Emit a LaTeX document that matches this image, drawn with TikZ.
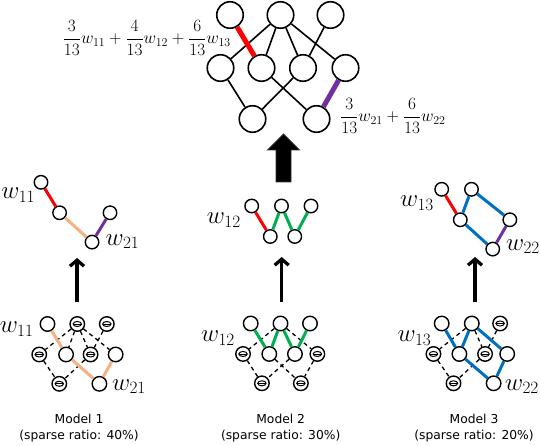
\documentclass[tikz,border=0pt]{standalone}
\usepackage{fontspec}
\setsansfont{DejaVu Sans}
\usetikzlibrary{arrows.meta}
\definecolor{cred}{RGB}{255,0,0}
\definecolor{cpurple}{RGB}{112,48,160}
\definecolor{ctan}{RGB}{244,177,131}
\definecolor{cgreen}{RGB}{0,176,80}
\definecolor{cblue}{RGB}{0,112,192}
\begin{document}
\begin{tikzpicture}[x=1pt,y=-1pt,
  bignode/.style={circle,draw,line width=1.6pt,minimum size=26.5pt,inner sep=0pt},
  midnode/.style={circle,draw,line width=1.4pt,minimum size=13.5pt,inner sep=0pt},
  lownode/.style={circle,draw,line width=1.4pt,minimum size=14.5pt,inner sep=0pt},
  pruned/.style={lownode,path picture={
      \draw[line width=1pt] (path picture bounding box.center) ellipse (4.2pt and 2.5pt);
      \draw[line width=0.9pt] ([xshift=-4.2pt]path picture bounding box.center) -- ([xshift=4.2pt]path picture bounding box.center);}},
  bigedge/.style={line width=1.6pt},
  heavyedge/.style={line width=5pt},
  coledge/.style={line width=3pt},
  dashedge/.style={line width=1.3pt,dash pattern=on 4pt off 3.5pt},
  wlabel/.style={font=\fontsize{24}{26}\selectfont,inner sep=0pt,anchor=base},
  formula/.style={font=\fontsize{18.8}{22}\selectfont,inner sep=0pt},
  modeltext/.style={font=\sffamily\fontsize{12.3}{15.7}\selectfont,align=center,inner sep=0pt},
  thinarrow/.style={line width=3.3pt,-{Straight Barb[length=6pt,width=14pt]}},
  mscale/.style={xscale=0.59,yscale=0.575}
]
\useasboundingbox (0,0) rectangle (540,446);

% ---------- aggregated network (top) ----------
\begin{scope}[shift={(230,15)}]
  \node[bignode] (aT1) at (0,0) {};
  \node[bignode] (aT2) at (50.5,0) {};
  \node[bignode] (aT3) at (100.5,0) {};
  \node[bignode] (aM1) at (-9.5,53) {};
  \node[bignode] (aM2) at (31.5,53) {};
  \node[bignode] (aM3) at (73,53) {};
  \node[bignode] (aM4) at (115.5,53) {};
  \node[bignode] (aB1) at (22.5,104) {};
  \node[bignode] (aB2) at (86.5,104) {};
\end{scope}
\draw[bigedge] (aT2)--(aM1) (aT2)--(aM2) (aT2)--(aM3) (aT2)--(aM4) (aT3)--(aM3)
  (aM1)--(aB1) (aM2)--(aB2) (aM3)--(aB1);
\draw[heavyedge,cred] (aT1)--(aM2);
\draw[heavyedge,cpurple] (aM4)--(aB2);

\node[formula,anchor=east] (f1) at (231,38) {$\displaystyle \frac{3}{13}w_{11}+\frac{4}{13}w_{12}+\frac{6}{13}w_{13}$};
\node[formula,anchor=west] (f2) at (340,116) {$\displaystyle \frac{3}{13}w_{21}+\frac{6}{13}w_{22}$};

% big block arrow
\draw[fill=black,draw=black!80,line width=0.8pt] (283.5,134) -- (299.5,150) -- (291,150) -- (291,182)
  -- (276,182) -- (276,150) -- (267.5,150) -- cycle;

% ---------- middle row: extracted sub-networks ----------
\begin{scope}[shift={(41,182.3)},mscale]
  \node[midnode] (bT1) at (0,0) {};
  \node[midnode] (bM2) at (31.5,53) {};
  \node[midnode] (bM4) at (117,53) {};
  \node[midnode] (bB2) at (86.5,104) {};
\end{scope}
\draw[coledge,cred] (bT1)--(bM2);
\draw[coledge,ctan] (bM2)--(bB2);
\draw[coledge,cpurple] (bM4)--(bB2);
\node[wlabel] (lb1) at (18.3,198.7) {$w_{11}$};
\node[wlabel] (lb2) at (122.5,245) {$w_{21}$};

\begin{scope}[shift={(251.7,206)},mscale]
  \node[midnode] (cT1) at (0,0) {};
  \node[midnode] (cT2) at (50.5,0) {};
  \node[midnode] (cT3) at (100.5,0) {};
  \node[midnode] (cM2) at (31.5,53) {};
  \node[midnode] (cM3) at (73,53) {};
\end{scope}
\draw[coledge,cred] (cT1)--(cM2);
\draw[coledge,cgreen] (cM2)--(cT2) (cT2)--(cM3) (cM3)--(cT3);
\node[wlabel] (lc1) at (223.8,223.3) {$w_{12}$};

\begin{scope}[shift={(441.7,189.3)},mscale]
  \node[midnode] (dT1) at (0,0) {};
  \node[midnode] (dT2) at (50.5,0) {};
  \node[midnode] (dM2) at (31.5,53) {};
  \node[midnode] (dM4) at (115.5,53) {};
  \node[midnode] (dB2) at (86.5,104) {};
\end{scope}
\draw[coledge,cred] (dT1)--(dM2);
\draw[coledge,cblue] (dM2)--(dT2) (dT2)--(dM4) (dM2)--(dB2);
\draw[coledge,cpurple] (dM4)--(dB2);
\node[wlabel] (ld1) at (417,206.7) {$w_{13}$};
\node[wlabel] (ld2) at (523,250) {$w_{22}$};

% ---------- arrows ----------
\coordinate (s1) at (77,302);   \coordinate (e1) at (77,258);
\coordinate (s2) at (281.7,302); \coordinate (e2) at (281.7,257);
\coordinate (s3) at (475,302);  \coordinate (e3) at (475,257);
\draw[thinarrow] (s1)--(e1);
\draw[thinarrow] (s2)--(e2);
\draw[thinarrow] (s3)--(e3);

% ---------- bottom row: sparse local models ----------
% Model 1
\begin{scope}[shift={(47.5,324)},mscale]
  \node[lownode] (pT1) at (0,0) {};
  \node[pruned]  (pT2) at (50.5,0) {};
  \node[pruned]  (pT3) at (100.5,0) {};
  \node[pruned]  (pM1) at (-14,53) {};
  \node[lownode] (pM2) at (31.5,53) {};
  \node[pruned]  (pM3) at (73,53) {};
  \node[lownode] (pM4) at (115.5,53) {};
  \node[pruned]  (pB1) at (20,104) {};
  \node[lownode] (pB2) at (88,104) {};
\end{scope}
\draw[dashedge] (pT2)--(pM1) (pT2)--(pM2) (pT2)--(pM3) (pT2)--(pM4) (pT3)--(pM3) (pM1)--(pB1) (pM3)--(pB1);
\draw[coledge,ctan] (pT1)--(pM2) (pM2)--(pB2) (pM4)--(pB2);
\node[wlabel] (lp1) at (16.7,332.7) {$w_{11}$};
\node[wlabel] (lp2) at (129,390) {$w_{21}$};

% Model 2
\begin{scope}[shift={(250.7,323.5)},mscale]
  \node[lownode] (qT1) at (0,0) {};
  \node[lownode] (qT2) at (50.5,0) {};
  \node[lownode] (qT3) at (100.5,0) {};
  \node[pruned]  (qM1) at (-13,53) {};
  \node[lownode] (qM2) at (31.5,53) {};
  \node[lownode] (qM3) at (75,53) {};
  \node[pruned]  (qM4) at (113,53) {};
  \node[pruned]  (qB1) at (19,104) {};
  \node[pruned]  (qB2) at (85,104) {};
\end{scope}
\draw[dashedge] (qT2)--(qM1) (qT2)--(qM4) (qM1)--(qB1) (qM2)--(qB2) (qM3)--(qB1) (qM4)--(qB2);
\draw[coledge,cgreen] (qT1)--(qM2) (qT2)--(qM2) (qT2)--(qM3) (qT3)--(qM3);
\node[wlabel] (lq1) at (218,341.7) {$w_{12}$};

% Model 3
\begin{scope}[shift={(441.7,323.5)},mscale]
  \node[lownode] (rT1) at (0,0) {};
  \node[lownode] (rT2) at (51,0) {};
  \node[pruned]  (rT3) at (99,0) {};
  \node[pruned]  (rM1) at (-14,53) {};
  \node[lownode] (rM2) at (30,53) {};
  \node[pruned]  (rM3) at (73.5,53) {};
  \node[lownode] (rM4) at (111,53) {};
  \node[pruned]  (rB1) at (20,104) {};
  \node[lownode] (rB2) at (88,104) {};
\end{scope}
\draw[dashedge] (rT2)--(rM1) (rT2)--(rM3) (rT3)--(rM3) (rM1)--(rB1) (rM3)--(rB1);
\draw[coledge,cblue] (rT1)--(rM2) (rT2)--(rM2) (rT2)--(rM4) (rM2)--(rB2) (rM4)--(rB2);
\node[wlabel] (lr1) at (414.5,341.7) {$w_{13}$};
\node[wlabel] (lr2) at (522,390) {$w_{22}$};

% ---------- captions ----------
\node[modeltext] (m1) at (79,428) {Model 1\\(sparse ratio: 40\%)};
\node[modeltext] (m2) at (280.7,428) {Model 2\\(sparse ratio: 30\%)};
\node[modeltext] (m3) at (474,428) {Model 3\\(sparse ratio: 20\%)};
\end{tikzpicture}
\end{document}
